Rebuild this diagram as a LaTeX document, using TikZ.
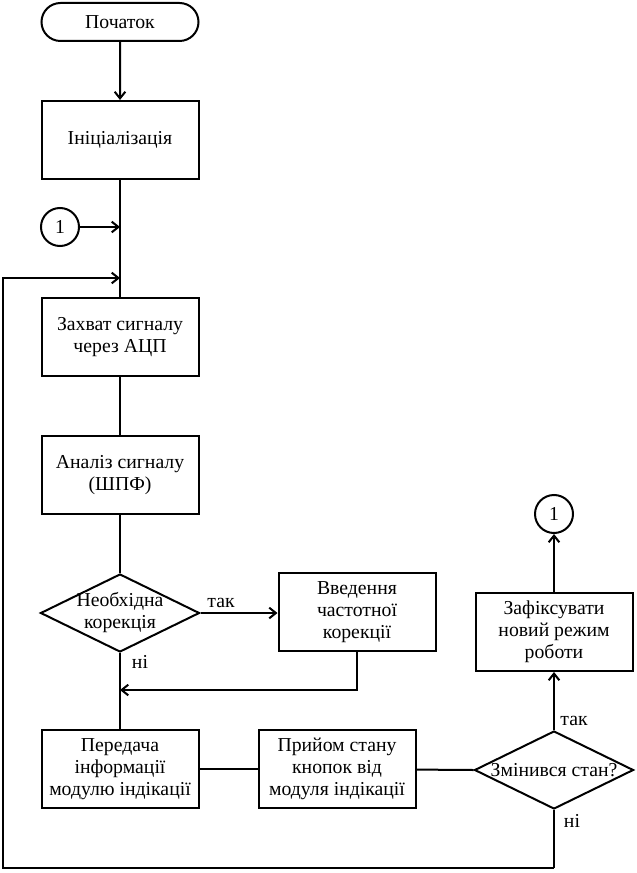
\documentclass[tikz,border=0pt]{standalone}
\usepackage{fontspec}
\setmainfont{Liberation Serif}
\usetikzlibrary{shapes.geometric,shapes.misc,arrows.meta}
\tikzset{
  txt/.style={font=\fontsize{14.8}{16.5}\selectfont, align=center, inner sep=0pt},
  proc/.style={txt, draw, line width=1.5pt, rectangle, minimum width=117.75pt, minimum height=58.5pt},
  term/.style={txt, draw, line width=1.5pt, rounded rectangle, minimum width=117.75pt, minimum height=28.5pt},
  dec/.style={draw, line width=1.5pt, diamond, minimum width=119.25pt, minimum height=58.5pt, inner sep=0pt},
  conn/.style={txt, draw, line width=1.5pt, circle, minimum size=28.5pt},
  ln/.style={line width=1.5pt},
  arr/.style={line width=1.5pt, -{Straight Barb[length=5pt,width=8pt]}},
  lbl/.style={txt}
}
\begin{document}
\begin{tikzpicture}[x=0.75pt,y=-0.75pt]
\useasboundingbox (0,0) rectangle (636,873);
\node[term] (start) at (120,22) {Початок};
\node[proc] (init) at (120,140) {Ініціалізація};
\node[conn] (c1) at (60,227) {1};
\coordinate (j1) at (120,227);
\coordinate (j2) at (120,278);
\node[proc] (cap) at (120,337) {Захват сигналу\\через АЦП};
\node[proc] (ana) at (120,475) {Аналіз сигналу\\(ШПФ)};
\node[dec] (d1) at (120,613) {};
\node[txt] (d1t) at (120,613) {Необхідна\\корекція};
\node[proc] (corr) at (357,612) {Введення\\частотної\\корекції};
\coordinate (j3) at (120,690);
\node[proc] (send) at (120,769) {Передача\\інформації\\модулю індікації};
\node[proc] (recv) at (337,769) {Прийом стану\\кнопок від\\модуля індікації};
\node[dec] (d2) at (554,770) {};
\node[txt] (d2t) at (554,770) {Змінився стан?};
\node[proc] (fix) at (554,632) {Зафіксувати\\новий режим\\роботи};
\node[conn] (c2) at (554,514) {1};
\node[lbl] (yes1) at (221,603) {так};
\node[lbl] (no1) at (140,662) {ні};
\node[lbl] (yes2) at (574,721) {так};
\node[lbl] (no2) at (572,821) {ні};
\coordinate (b1) at (554,868);
\coordinate (b2) at (3,868);
\coordinate (b3) at (3,278);

\draw[arr] (start) -- (init);
\draw[ln] (init) -- (cap);
\draw[arr] (c1) -- (j1);
\draw[arr] (b1) -- (b2) -- (b3) -- (j2);
\draw[ln] (d2.south) -- (b1);
\draw[ln] (cap) -- (ana);
\draw[ln] (ana) -- (d1.north);
\draw[arr] (d1.east) -- (corr.west |- d1.east);
\draw[ln] (d1.south) -- (send);
\draw[arr] (corr.south) |- (j3);
\draw[ln] (send) -- (recv);
\draw[ln] (recv) -- (d2.west);
\draw[arr] (d2.north) -- (fix);
\draw[arr] (fix) -- (c2);
\end{tikzpicture}
\end{document}
